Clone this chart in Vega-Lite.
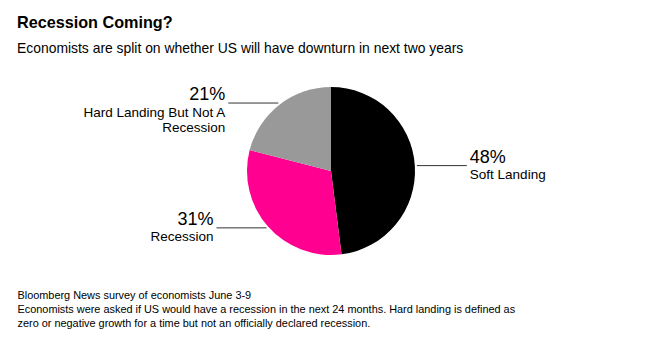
{
  "$schema": "https://vega.github.io/schema/vega-lite/v6.json",
  "width": 628,
  "height": 214,
  "autosize": {"type": "none"},
  "padding": {"left": 17, "top": 64, "right": 15, "bottom": 82},
  "background": "white",
  "config": {"view": {"stroke": null}, "font": "Liberation Sans"},
  "title": {
    "text": "Recession Coming?",
    "subtitle": "Economists are split on whether US will have downturn in next two years",
    "anchor": "start",
    "frame": "group",
    "font": "Liberation Sans",
    "fontSize": 16.2,
    "fontWeight": "bold",
    "color": "#000000",
    "subtitleFont": "Liberation Sans",
    "subtitleFontSize": 13.9,
    "subtitleColor": "#000000",
    "subtitlePadding": 10.5,
    "offset": 8.5
  },
  "data": {
    "values": [
      {"category": "Soft Landing", "label": "Soft Landing", "share": 48},
      {"category": "Recession", "label": "Recession", "share": 31},
      {"category": "Hard Landing But Not A Recession", "label": "Hard Landing But Not A\nRecession", "share": 21}
    ]
  },
  "transform": [
    {"window": [{"op": "sum", "field": "share", "as": "t1"}], "frame": [null, 0]},
    {"calculate": "datum.t1 - datum.share", "as": "t0"},
    {"calculate": "(datum.t0 + datum.share / 2) * PI / 50", "as": "mid"},
    {"calculate": "86 * sin(datum.mid)", "as": "ax"},
    {"calculate": "86 * cos(datum.mid)", "as": "ay"},
    {"calculate": "datum.ax >= 0 ? 1 : -1", "as": "side"},
    {"calculate": "datum.ax + datum.side * 50", "as": "bx"},
    {"calculate": "datum.bx + datum.side * 3", "as": "tx"},
    {"calculate": "datum.share + '%'", "as": "pct"}
  ],
  "layer": [
    {
      "mark": {"type": "arc", "radius": 84},
      "encoding": {
        "theta": {"field": "t0", "type": "quantitative", "stack": null, "scale": {"domain": [0, 100], "range": [0, 6.283185307179586]}},
        "theta2": {"field": "t1"},
        "color": {
          "field": "category",
          "type": "nominal",
          "scale": {"domain": ["Soft Landing", "Recession", "Hard Landing But Not A Recession"], "range": ["#000000", "#FF0090", "#999999"]},
          "legend": null
        }
      }
    },
    {
      "mark": {"type": "rule", "color": "#333333", "strokeWidth": 1},
      "encoding": {
        "x": {
          "field": "ax",
          "type": "quantitative",
          "scale": {"domain": [-314, 314], "nice": false, "zero": false},
          "axis": {
            "domain": false,
            "ticks": false,
            "labels": false,
            "grid": false,
            "title": [
              "Bloomberg News survey of economists June 3-9",
              "Economists were asked if US would have a recession in the next 24 months. Hard landing is defined as",
              "zero or negative growth for a time but not an officially declared recession."
            ],
            "titleFont": "Liberation Sans",
            "titleFontSize": 10.9,
            "titleFontWeight": "normal",
            "titleColor": "#000000",
            "titleAlign": "left",
            "titleAnchor": "start",
            "titlePadding": 11,
            "titleLineHeight": 14
          }
        },
        "x2": {"field": "bx"},
        "y": {"field": "ay", "type": "quantitative", "scale": {"domain": [-107, 107], "nice": false, "zero": false}, "axis": null}
      }
    },
    {
      "transform": [{"filter": "datum.side > 0"}],
      "mark": {"type": "text", "align": "left", "baseline": "alphabetic", "dy": -3, "fontSize": 18, "color": "#000000"},
      "encoding": {
        "x": {"field": "tx", "type": "quantitative"},
        "y": {"field": "ay", "type": "quantitative", "axis": null},
        "text": {"field": "pct"}
      }
    },
    {
      "transform": [{"filter": "datum.side < 0"}],
      "mark": {"type": "text", "align": "right", "baseline": "alphabetic", "dy": -3, "fontSize": 18, "color": "#000000"},
      "encoding": {
        "x": {"field": "tx", "type": "quantitative"},
        "y": {"field": "ay", "type": "quantitative", "axis": null},
        "text": {"field": "pct"}
      }
    },
    {
      "transform": [{"filter": "datum.side > 0"}],
      "mark": {"type": "text", "align": "left", "baseline": "alphabetic", "dy": 13.5, "fontSize": 13.5, "lineHeight": 15.5, "lineBreak": "\n", "color": "#000000"},
      "encoding": {
        "x": {"field": "tx", "type": "quantitative"},
        "y": {"field": "ay", "type": "quantitative", "axis": null},
        "text": {"field": "label"}
      }
    },
    {
      "transform": [{"filter": "datum.side < 0"}],
      "mark": {"type": "text", "align": "right", "baseline": "alphabetic", "dy": 13.5, "fontSize": 13.5, "lineHeight": 15.5, "lineBreak": "\n", "color": "#000000"},
      "encoding": {
        "x": {"field": "tx", "type": "quantitative"},
        "y": {"field": "ay", "type": "quantitative", "axis": null},
        "text": {"field": "label"}
      }
    }
  ]
}
